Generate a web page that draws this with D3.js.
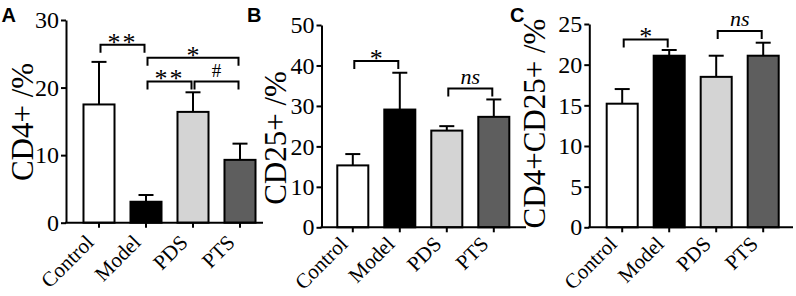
<!DOCTYPE html>
<html lang="en">
  <head>
    <meta charset="UTF-8" />
    <title>CD4 / CD25 bar charts</title>
    <style>
      html, body { margin: 0; padding: 0; background: #fff; }
      svg text { fill: #000; }
    </style>
  </head>
  <body>
    <div id="chart"></div>

    <script src="https://cdn.jsdelivr.net/npm/d3@7"></script>
    <script>

    // groups and their bar fills
    var groups = ["Control", "Model", "PDS", "PTS"];
    var fills = ["#ffffff", "#000000", "#d4d4d4", "#5e5e5e"];

    // panel A : CD4+ %
    var cd4Mean = [17.5, 3.1, 16.4, 9.3];
    var cd4Sd = [6.3, 1.0, 2.9, 2.4];
    var cd4Ticks = [0, 10, 20, 30];
    // [from group, to group, label, bracket level in axis units]
    var cd4Sig = [[0, 1, "**", 26.35], [1, 3, "*", 24.4], [1, 2, "**", 20.9], [2, 3, "#", 20.9]];

    // panel B : CD25+ %
    var cd25Mean = [15.3, 29.1, 23.9, 27.3];
    var cd25Sd = [2.8, 9.1, 1.1, 4.3];
    var cd25Ticks = [0, 10, 20, 30, 40, 50];
    var cd25Sig = [[0, 1, "*", 41.1], [2, 3, "ns", 34.3]];

    // panel C : CD4+CD25+ %
    var dblMean = [15.2, 21.1, 18.5, 21.1];
    var dblSd = [1.8, 0.7, 2.6, 1.6];
    var dblTicks = [0, 5, 10, 15, 20, 25];
    var dblSig = [[0, 1, "*", 23.1], [2, 3, "ns", 24.15]];

    var w = 796;
    var h = 296;
    var serif = "'Liberation Serif', 'Times New Roman', serif";

    var svg = d3.select("#chart")
                .append("svg")
                .attr("width", w)
                .attr("height", h);

    // layout of the three panels
    var panels = [
      { letter: "A", lx: 1.5, title: "CD4+ /%", tx: 33, ty: 122, axisX: 66, axisEnd: 263, y0: 222.7, yTop: 20, first: 17.5, labOff: 21,
        mean: cd4Mean, sd: cd4Sd, ticks: cd4Ticks, sig: cd4Sig },
      { letter: "B", lx: 247, title: "CD25+ /%", tx: 285.5, ty: 138, axisX: 321.5, axisEnd: 526, y0: 227.3, yTop: 25, first: 15.8, labOff: 18,
        mean: cd25Mean, sd: cd25Sd, ticks: cd25Ticks, sig: cd25Sig },
      { letter: "C", lx: 510, title: "CD4+CD25+ /%", tx: 545, ty: 123.5, axisX: 589.3, axisEnd: 793, y0: 227.3, yTop: 24, first: 17.4, labOff: 18,
        mean: dblMean, sd: dblSd, ticks: dblTicks, sig: dblSig }
    ];

    var step = 47;

    panels.forEach(function(p) {
      var g = svg.append("g");

      var x = d3.scaleBand()
                .domain(groups)
                .range([p.axisX + p.first - 8, p.axisX + p.first - 8 + 4 * step])
                .paddingInner(0.34)
                .paddingOuter(0.17);

      var y = d3.scaleLinear()
                .domain([0, d3.max(p.ticks)])
                .range([p.y0, p.yTop]);

      var cx = function(i) { return x(groups[i]) + x.bandwidth() / 2; };

      var rows = groups.map(function(name, i) {
        return { name: name, mean: p.mean[i], sd: p.sd[i], fill: fills[i] };
      });

      // bars
      g.selectAll("rect.bar")
       .data(rows)
       .enter()
       .append("rect")
       .attr("class", "bar")
       .attr("x", function(d) { return x(d.name); })
       .attr("y", function(d) { return y(d.mean); })
       .attr("width", x.bandwidth())
       .attr("height", function(d) { return y(0) - y(d.mean); })
       .attr("fill", function(d) { return d.fill; })
       .attr("stroke", "#000")
       .attr("stroke-width", 2);

      // error bars (upper only)
      var eb = g.selectAll("g.err")
                .data(rows)
                .enter()
                .append("g")
                .attr("class", "err")
                .attr("stroke", "#000")
                .attr("stroke-width", 2);
      eb.append("line")
        .attr("x1", function(d) { return x(d.name) + x.bandwidth() / 2; })
        .attr("x2", function(d) { return x(d.name) + x.bandwidth() / 2; })
        .attr("y1", function(d) { return y(d.mean); })
        .attr("y2", function(d) { return y(d.mean + d.sd); });
      eb.append("line")
        .attr("x1", function(d) { return x(d.name) + x.bandwidth() / 2 - 7.5; })
        .attr("x2", function(d) { return x(d.name) + x.bandwidth() / 2 + 7.5; })
        .attr("y1", function(d) { return y(d.mean + d.sd); })
        .attr("y2", function(d) { return y(d.mean + d.sd); });

      // y axis
      var yAxis = d3.axisLeft(y)
                    .tickValues(p.ticks)
                    .tickSize(5)
                    .tickSizeOuter(0)
                    .tickPadding(2);
      var ya = g.append("g")
                .attr("transform", "translate(" + p.axisX + ",0)")
                .call(yAxis);
      ya.selectAll("path, line").attr("stroke", "#000").attr("stroke-width", 2);
      ya.selectAll("text")
        .style("font-family", serif)
        .style("font-size", "24px")
        .attr("fill", "#000");

      // x axis: baseline plus small ticks under the bars
      g.append("line")
       .attr("x1", p.axisX - 1)
       .attr("x2", p.axisEnd)
       .attr("y1", y(0))
       .attr("y2", y(0))
       .attr("stroke", "#000")
       .attr("stroke-width", 2);

      var xAxis = d3.axisBottom(x).tickSize(5).tickSizeOuter(0).tickFormat("");
      var xa = g.append("g")
                .attr("transform", "translate(0," + y(0) + ")")
                .call(xAxis);
      xa.select(".domain").remove();
      xa.selectAll("line").attr("stroke", "#000").attr("stroke-width", 2);

      g.selectAll("text.xlab")
       .data(groups)
       .enter()
       .append("text")
       .attr("class", "xlab")
       .attr("transform", function(d) {
         return "translate(" + (x(d) + x.bandwidth() / 2 - 4) + "," + (y(0) + p.labOff) + ") rotate(-45)";
       })
       .attr("text-anchor", "end")
       .style("font-family", serif)
       .style("font-size", "21px")
       .text(function(d) { return d; });

      // y axis title
      g.append("text")
       .attr("transform", "translate(" + p.tx + "," + p.ty + ") rotate(-90)")
       .attr("text-anchor", "middle")
       .style("font-family", serif)
       .style("font-size", "31px")
       .text(p.title);

      // panel letter
      g.append("text")
       .attr("x", p.lx)
       .attr("y", 21.7)
       .style("font-family", "'Liberation Sans', Arial, sans-serif")
       .style("font-weight", "bold")
       .style("font-size", "20px")
       .text(p.letter);

      // significance brackets
      var sg = g.selectAll("g.sig")
                .data(p.sig)
                .enter()
                .append("g")
                .attr("class", "sig");
      sg.append("path")
        .attr("fill", "none")
        .attr("stroke", "#000")
        .attr("stroke-width", 2)
        .attr("d", function(s) {
          var x1 = cx(s[0]) + 1.5, x2 = cx(s[1]) - 1.5, yy = y(s[3]);
          return "M" + x1 + "," + (yy + 8) + "V" + yy + "H" + x2 + "V" + (yy + 8);
        });
      sg.append("text")
        .attr("x", function(s) { return (cx(s[0]) + cx(s[1])) / 2; })
        .attr("y", function(s) {
          var yy = y(s[3]);
          if (s[2] === "ns") return yy - 5;
          if (s[2] === "#") return yy - 4;
          return yy + 6;
        })
        .attr("text-anchor", "middle")
        .style("font-family", serif)
        .style("font-size", function(s) { return s[2] === "ns" ? "22px" : (s[2] === "#" ? "19px" : "26px"); })
        .style("font-style", function(s) { return s[2] === "ns" ? "italic" : "normal"; })
        .style("letter-spacing", function(s) { return s[2] === "**" ? "2px" : "0px"; })
        .text(function(s) { return s[2]; });
    });

    </script>
  </body>
</html>
